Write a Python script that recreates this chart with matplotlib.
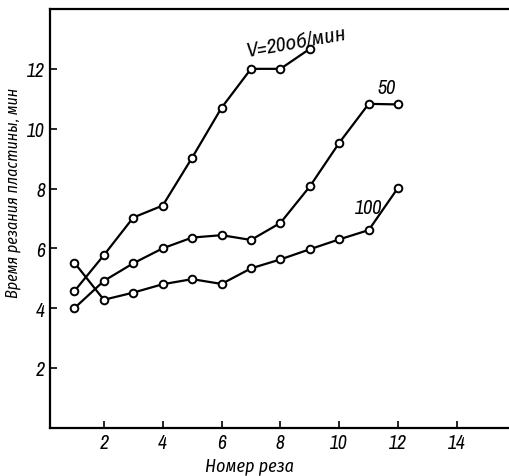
import matplotlib

matplotlib.use("Agg")
import matplotlib.pyplot as plt  # noqa: E402
from matplotlib import font_manager  # noqa: E402

# pick a condensed face that is installed (the scan uses a narrow italic)
names = sorted({f.name for f in font_manager.fontManager.ttflist})
narrow = [n for n in names if "Narrow" in n or "Condensed" in n]

plt.rcParams["font.family"] = narrow + ["DejaVu Sans"]
plt.rcParams["font.style"] = "italic"

# cut number
x20 = [1, 2, 3, 4, 5, 6, 7, 8, 9]
x50 = [1, 2, 3, 4, 5, 6, 7, 8, 9, 10, 11, 12]
x100 = [1, 2, 3, 4, 5, 6, 7, 8, 9, 10, 11, 12]

# cutting time, min
t20 = [4.57, 5.77, 7.03, 7.43, 9.03, 10.7, 12.0, 12.0, 12.67]
t50 = [4.0, 4.91, 5.5, 6.0, 6.36, 6.44, 6.28, 6.85, 8.07, 9.53, 10.83, 10.81]
t100 = [5.52, 4.28, 4.52, 4.8, 4.97, 4.81, 5.33, 5.63, 5.97, 6.3, 6.61, 8.03]

xticks = [2, 4, 6, 8, 10, 12, 14]
yticks = [2, 4, 6, 8, 10, 12]

fig = plt.figure(figsize=(5.10, 4.77), dpi=100)
ax = fig.add_axes([0.098, 0.101, 0.902, 0.878])

style = dict(color="black", lw=1.6, marker="o", ms=5.5, mfc="white",
             mec="black", mew=1.4)
ax.plot(x20, t20, **style)
ax.plot(x50, t50, **style)
ax.plot(x100, t100, **style)

ax.text(6.8, 12.3, "V=20об/мин", fontsize=15, rotation=10,
        ha="left", va="bottom")
ax.text(11.6, 11.37, "50", fontsize=14.5, ha="center", va="center")
ax.text(11.0, 7.37, "100", fontsize=14.5, ha="center", va="center")

ax.set_xlim(0.17, 15.8)
ax.set_ylim(0, 14)
ax.set_xticks(xticks)
ax.set_yticks(yticks)
ax.tick_params(direction="in", length=5, width=1.2, labelsize=14)
ax.spines["right"].set_visible(False)
for s in ("left", "bottom", "top"):
    ax.spines[s].set_linewidth(1.6)

ax.set_xlabel("Номер реза", fontsize=13)
ax.set_ylabel("Время резания пластины, мин", fontsize=11.5)
ax.xaxis.set_label_coords(0.434, -0.07)
ax.yaxis.set_label_coords(-0.062, 0.563)

fig.savefig("out.png", dpi=100)
